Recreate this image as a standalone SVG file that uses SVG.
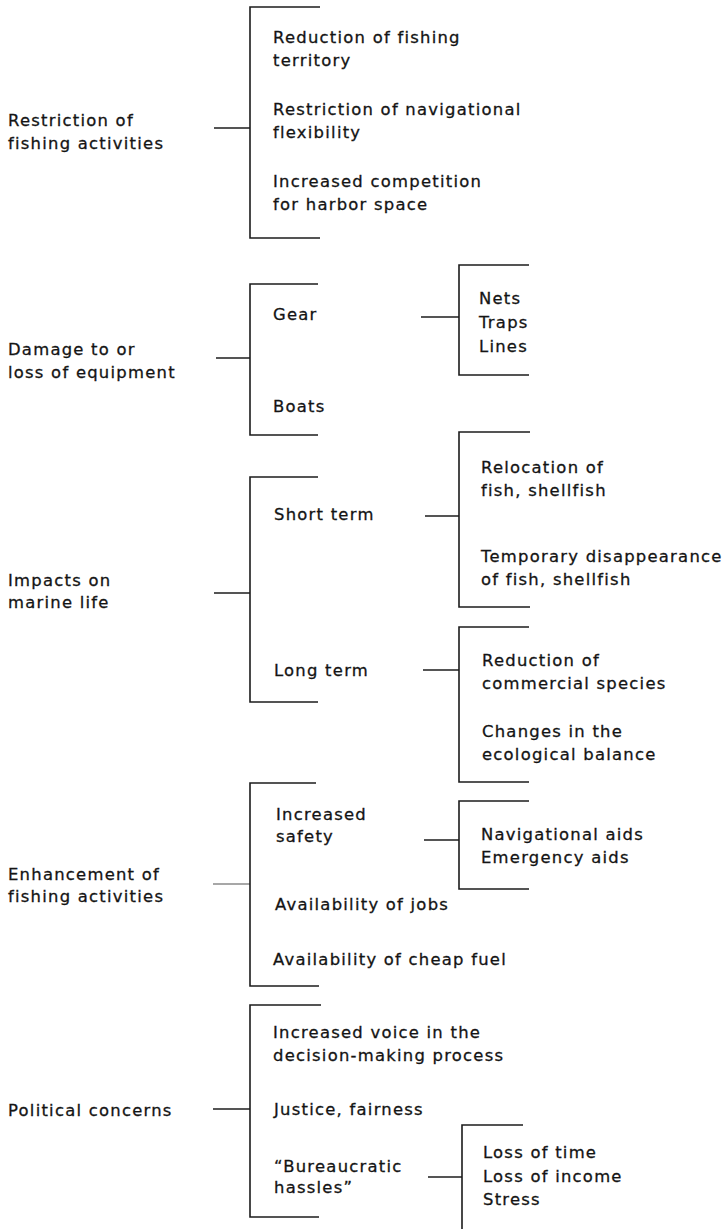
<svg xmlns="http://www.w3.org/2000/svg" width="727" height="1229" viewBox="0 0 727 1229">
  <style>
    text { font-family: "DejaVu Sans", "Liberation Sans", sans-serif; font-size: 16.4px; letter-spacing: 1.25px; fill: #141414; stroke: #141414; stroke-width: 0.3px; }
    .ln { fill: none; stroke: #1c1c1c; stroke-width: 1.6; }
    .lt { fill: none; stroke: #8a8a8a; stroke-width: 1.6; }
  </style>
  <rect width="727" height="1229" fill="#ffffff"/>

  <!-- brackets and stems -->
  <g id="connectors">
    <!-- restriction of fishing activities -->
    <path class="ln" d="M214,128 H250"/>
    <path class="ln" d="M320,7 H250 V238 H320"/>
    <!-- damage to equipment -->
    <path class="ln" d="M216,358 H250"/>
    <path class="ln" d="M318,284 H250 V435 H318"/>
    <path class="ln" d="M421,317 H459"/>
    <path class="ln" d="M529,265 H459 V375 H529"/>
    <!-- impacts on marine life -->
    <path class="ln" d="M214,593 H250"/>
    <path class="ln" d="M318,477 H250 V702 H318"/>
    <path class="ln" d="M425,516 H459"/>
    <path class="ln" d="M530,432 H459 V607 H530"/>
    <path class="ln" d="M423,670 H459"/>
    <path class="ln" d="M529,627 H459 V782 H529"/>
    <!-- enhancement of fishing activities -->
    <path class="lt" d="M213,884 H250"/>
    <path class="ln" d="M316,783 H250 V986 H319"/>
    <path class="ln" d="M424,840 H459"/>
    <path class="ln" d="M529,801 H459 V889 H529"/>
    <!-- political concerns -->
    <path class="ln" d="M213,1109 H250"/>
    <path class="ln" d="M321,1005 H250 V1217 H319"/>
    <path class="ln" d="M428,1177 H462"/>
    <path class="ln" d="M523,1125 H462 V1229"/>
  </g>

  <!-- top-level categories -->
  <g id="restriction">
    <text x="8" y="126">Restriction of</text>
    <text x="8" y="149">fishing activities</text>
  </g>
  <g id="damage">
    <text x="8" y="355">Damage to or</text>
    <text x="8" y="378">loss of equipment</text>
  </g>
  <g id="impacts">
    <text x="8" y="586">Impacts on</text>
    <text x="8" y="608">marine life</text>
  </g>
  <g id="enhancement">
    <text x="8" y="880">Enhancement of</text>
    <text x="8" y="902">fishing activities</text>
  </g>
  <g id="political">
    <text x="8" y="1116">Political concerns</text>
  </g>

  <!-- restriction items -->
  <g id="territory">
    <text x="273" y="43">Reduction of fishing</text>
    <text x="273" y="66">territory</text>
  </g>
  <g id="navigation">
    <text x="273" y="115">Restriction of navigational</text>
    <text x="273" y="138">flexibility</text>
  </g>
  <g id="harbor">
    <text x="273" y="187">Increased competition</text>
    <text x="273" y="210">for harbor space</text>
  </g>

  <!-- equipment items -->
  <g id="gear"><text x="273" y="320">Gear</text></g>
  <g id="gear-types">
    <text x="479" y="304">Nets</text>
    <text x="479" y="328">Traps</text>
    <text x="479" y="352">Lines</text>
  </g>
  <g id="boats"><text x="273" y="412">Boats</text></g>

  <!-- marine life items -->
  <g id="short-term"><text x="274" y="520">Short term</text></g>
  <g id="relocation">
    <text x="481" y="473">Relocation of</text>
    <text x="481" y="496">fish, shellfish</text>
  </g>
  <g id="disappearance">
    <text x="481" y="562">Temporary disappearance</text>
    <text x="481" y="585">of fish, shellfish</text>
  </g>
  <g id="long-term"><text x="274" y="676">Long term</text></g>
  <g id="species">
    <text x="482" y="666">Reduction of</text>
    <text x="482" y="689">commercial species</text>
  </g>
  <g id="balance">
    <text x="482" y="737">Changes in the</text>
    <text x="482" y="760">ecological balance</text>
  </g>

  <!-- enhancement items -->
  <g id="safety">
    <text x="276" y="820">Increased</text>
    <text x="276" y="842">safety</text>
  </g>
  <g id="aids">
    <text x="481" y="840">Navigational aids</text>
    <text x="481" y="863">Emergency aids</text>
  </g>
  <g id="jobs"><text x="275" y="910">Availability of jobs</text></g>
  <g id="fuel"><text x="273" y="965">Availability of cheap fuel</text></g>

  <!-- political items -->
  <g id="voice">
    <text x="273" y="1038">Increased voice in the</text>
    <text x="273" y="1061">decision-making process</text>
  </g>
  <g id="justice"><text x="274" y="1115">Justice, fairness</text></g>
  <g id="hassles">
    <text x="274" y="1172">“Bureaucratic</text>
    <text x="274" y="1193">hassles”</text>
  </g>
  <g id="hassle-effects">
    <text x="483" y="1158">Loss of time</text>
    <text x="483" y="1182">Loss of income</text>
    <text x="483" y="1205">Stress</text>
  </g>
</svg>
